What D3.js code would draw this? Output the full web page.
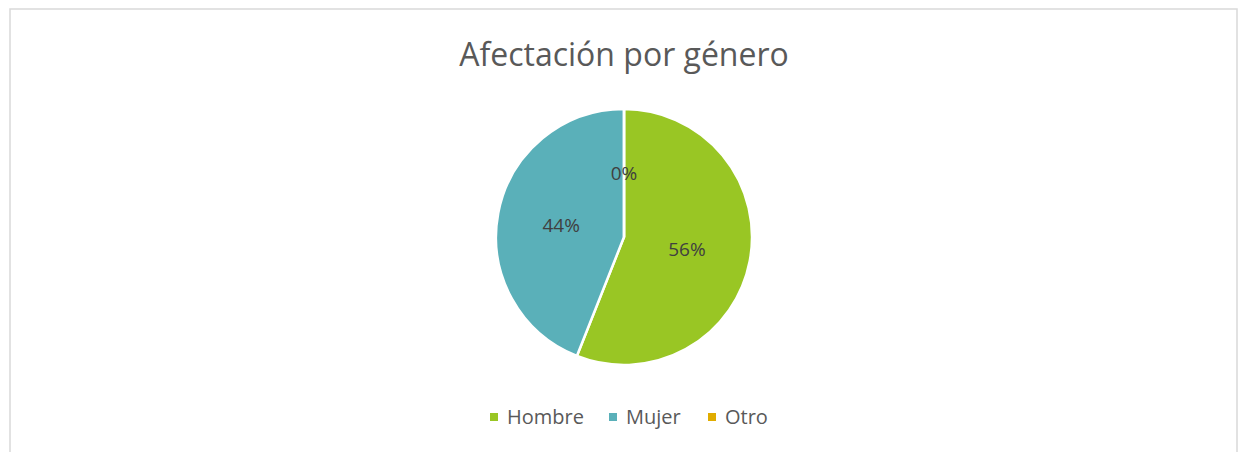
<!DOCTYPE html>
<html><head><meta charset="utf-8">
<script src="https://cdn.jsdelivr.net/npm/d3@7"></script>
<style>html,body{margin:0;padding:0;background:#fff;}svg{display:block;}</style>
</head><body>
<svg id="chart" width="1240" height="452"></svg>
<script>
const title = "Afectación por género";
const categories = ["Hombre", "Mujer", "Otro"];
const values = [56, 44, 0];
const labels = ["56%", "44%", "0%"];
const colors = ["#99C624", "#5AB0B9", "#E0AC00"];

const svg = d3.select("#chart");
const font = "'Open Sans', sans-serif";

svg.append("rect").attr("x", 10).attr("y", 9).attr("width", 1227).attr("height", 460)
  .attr("fill", "#fff").attr("stroke", "#D9D9D9").attr("stroke-width", 1.5);

svg.append("text").attr("x", 624).attr("y", 66).attr("text-anchor", "middle")
  .attr("font-family", font).attr("font-size", 32).attr("fill", "#595959").text(title);

const cx = 624, cy = 237, r = 128;
const data = categories.map((c, i) => ({cat: c, value: values[i], label: labels[i], color: colors[i]}));
const pie = d3.pie().sort(null).value(d => d.value);
const arcs = pie(data);
const arc = d3.arc().innerRadius(0).outerRadius(r);
const labelArc = d3.arc().innerRadius(r * 0.5).outerRadius(r * 0.5);
const g = svg.append("g").attr("transform", `translate(${cx},${cy})`);
g.selectAll("path").data(arcs).join("path")
  .attr("d", arc).attr("fill", d => d.data.color)
  .attr("stroke", "#fff").attr("stroke-width", 2.5).attr("stroke-linejoin", "round");
g.selectAll("text").data(arcs).join("text")
  .attr("transform", d => { const [x, y] = labelArc.centroid(d); return `translate(${x},${y})`; })
  .attr("text-anchor", "middle").attr("dy", "0.35em")
  .attr("font-family", font).attr("font-size", 19).attr("fill", "#404040")
  .text(d => d.data.label);

// legend
const legX = [490, 609, 708];
const leg = svg.append("g");
data.forEach((d, i) => {
  leg.append("rect").attr("x", legX[i]).attr("y", 413).attr("width", 8).attr("height", 8).attr("fill", d.color);
  leg.append("text").attr("x", legX[i] + 17).attr("y", 424).attr("font-family", font)
    .attr("font-size", 20).attr("fill", "#595959").text(d.cat);
});
</script>
</body></html>
